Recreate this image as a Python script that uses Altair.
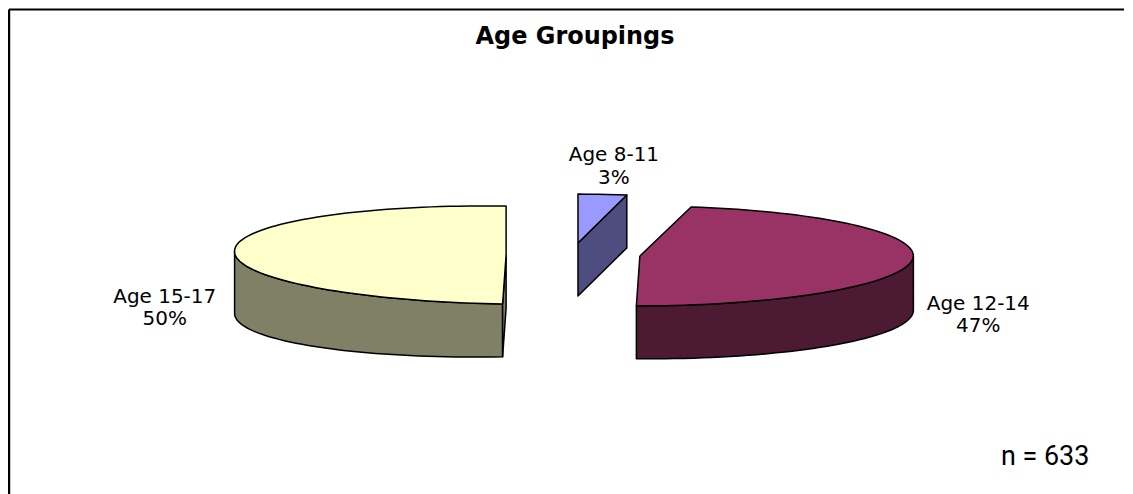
import math
import altair as alt
import pandas as pd

TITLE = "Age Groupings"
NOTE = "n = 633"
labels = ["Age 8-11", "Age 12-14", "Age 15-17"]
shares = [3, 47, 50]
top_colors = ["#9999FF", "#993366", "#FFFFCC"]
side_colors = ["#4D4D80", "#4D1A33", "#808066"]

# Layout of the exploded, tilted pie (image pixels)
centers = [(578, 242), (640, 255), (506, 254)]
radii = [(261, 49), (274, 50), (272, 49)]
tilt = [0, 0, 4]
depth = [53, 53, 53]
depth_extra = [0, 2, 9]
SKEW = -3.5

W, H = 1117, 486
OX, OY = 8, 8
x_scale = alt.Scale(domain=[OX, OX + W], range=[0, W])
y_scale = alt.Scale(domain=[OY, OY + H], range=[0, H])


def rim(k, deg, lower=False):
    t = math.radians(deg)
    cx, cy = centers[k]
    a, b = radii[k]
    x = cx + a * math.sin(t) + SKEW * max(0.0, -math.cos(t))
    y = cy - b * math.cos(t) + tilt[k] * math.sin(t)
    if lower:
        y += depth[k] + depth_extra[k] * abs(math.sin(t))
    return x, y


def sweep(start, end):
    n = max(2, int(abs(end - start) / 2))
    return [start + (end - start) * i / n for i in range(n + 1)]


def shape(points, fill):
    df = pd.DataFrame(points, columns=["x", "y"])
    df["i"] = range(len(df))
    return alt.Chart(df).mark_line(
        fill=fill, stroke="black", strokeWidth=1.5, strokeJoin="round", interpolate="linear"
    ).encode(
        x=alt.X("x:Q", scale=x_scale, axis=None),
        y=alt.Y("y:Q", scale=y_scale, axis=None),
        order=alt.Order("i:Q"),
    )


layers = []
bounds = []
acc = 0.0
for s in shares:
    bounds.append((acc * 3.6, (acc + s) * 3.6))
    acc += s

for k, (start, end) in enumerate(bounds):
    cx, cy = centers[k]
    apex = (cx, cy)
    # visible outer wall: the part of the rim facing the viewer (90..270 degrees)
    lo, hi = max(start, 90), min(end, 270)
    if hi > lo:
        arc = sweep(lo, hi)
        pts = [rim(k, d) for d in arc] + [rim(k, d, True) for d in reversed(arc)]
        pts.append(pts[0])
        layers.append(shape(pts, side_colors[k]))
    # cut faces turned toward the viewer
    if k == 0:
        e = rim(k, end)
        e2 = rim(k, end, True)
        pts = [apex, e, e2, (cx, cy + depth[k]), apex]
        layers.append(shape(pts, side_colors[k]))
    if k == 2:
        s0 = rim(k, start)
        s1 = rim(k, start, True)
        pts = [apex, s0, s1, (cx, cy + depth[k]), apex]
        layers.append(shape(pts, side_colors[k]))
    # top face
    top = [apex] + [rim(k, d) for d in sweep(start, end)] + [apex]
    layers.append(shape(top, top_colors[k]))

anchor = alt.Chart(pd.DataFrame({"a": [0]}))


def text_mark(txt, x, y, size=20, weight="normal", font="DejaVu Sans", line=22.5):
    return anchor.mark_text(
        text=txt, font=font, fontSize=size, fontWeight=weight, align="center",
        baseline="alphabetic", color="black", lineBreak="\n", lineHeight=line,
    ).encode(x=alt.value(x - OX), y=alt.value(y - OY))


texts = [
    text_mark(TITLE, 575, 43, size=24, weight="bold"),
    text_mark(f"{labels[0]}\n{shares[0]}%", 614, 160),
    text_mark(f"{labels[1]}\n{shares[1]}%", 979, 309),
    text_mark(f"{labels[2]}\n{shares[2]}%", 164, 302),
    text_mark(NOTE, 1046, 464, size=27, font="Roboto"),
]


def vline(x, color, w):
    return anchor.mark_rule(color=color, strokeWidth=w).encode(
        x=alt.value(x - OX), y=alt.value(0), y2=alt.value(H))


def hline(y, color, w):
    return anchor.mark_rule(color=color, strokeWidth=w).encode(
        y=alt.value(y - OY), x=alt.value(0), x2=alt.value(W))


frame = [vline(9.5, "#c8c8c8", 1), vline(8, "black", 2), hline(8, "black", 2)]

chart = alt.layer(*frame, *layers, *texts).properties(
    width=W, height=H, padding=0, background="white"
).configure_view(stroke=None)

chart.save("out.html", embed_options={"renderer": "svg", "actions": False})
